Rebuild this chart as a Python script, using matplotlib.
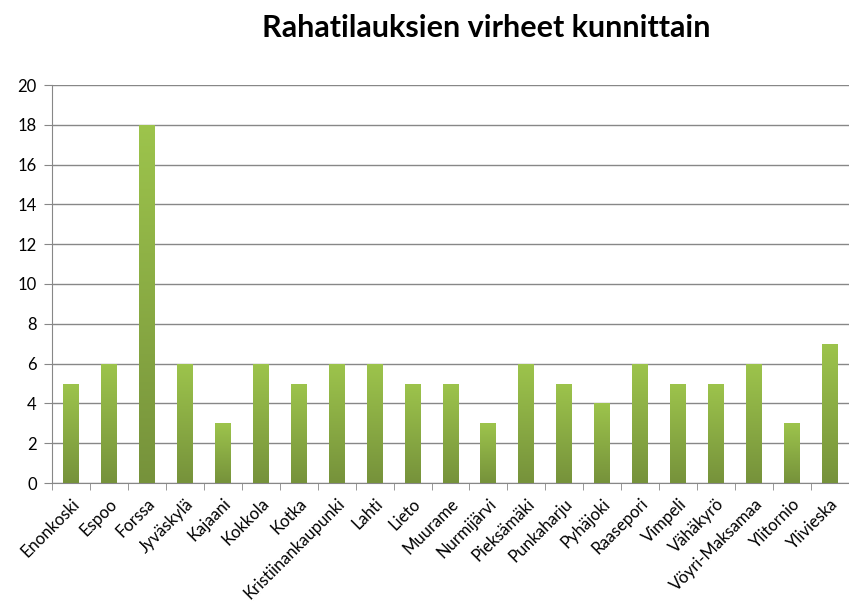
import numpy as np
import matplotlib.pyplot as plt
from matplotlib.colors import LinearSegmentedColormap

# Data
kunnat = ['Enonkoski', 'Espoo', 'Forssa', 'Jyväskylä', 'Kajaani', 'Kokkola',
          'Kotka', 'Kristiinankaupunki', 'Lahti', 'Lieto', 'Muurame',
          'Nurmijärvi', 'Pieksämäki', 'Punkaharju', 'Pyhäjoki', 'Raasepori',
          'Vimpeli', 'Vähäkyrö', 'Vöyri-Maksamaa', 'Ylitornio', 'Ylivieska']
virheet = [5, 6, 18, 6, 3, 6, 5, 6, 6, 5, 5, 3, 6, 5, 4, 6, 5, 5, 6, 3, 7]
y_ticks = list(range(0, 21, 2))

plt.rcParams['font.family'] = ['Lato', 'DejaVu Sans']

fig = plt.figure(figsize=(8.49, 6.06), dpi=100)
ax = fig.add_axes([52 / 849, 1 - 483 / 606, (849 - 52) / 849, (483 - 85) / 606])

x = np.arange(len(kunnat))
bar_w = 0.42
bars = ax.bar(x, virheet, width=bar_w, color='none', edgecolor='none', zorder=3)

# vertical gradient in each bar, light at top, dark at bottom
cmap = LinearSegmentedColormap.from_list('grn', ['#76923B', '#9DC44C'])
grad = np.linspace(0, 1, 256).reshape(-1, 1)
for b in bars:
    x0, w, h = b.get_x(), b.get_width(), b.get_height()
    im = ax.imshow(grad, cmap=cmap, aspect='auto', origin='lower',
                   extent=[x0, x0 + w, 0, h], zorder=3)
    im.set_clip_path(b)

ax.set_xlim(-0.5, len(kunnat) - 0.5)
ax.set_ylim(0, 20)
ax.set_yticks(y_ticks)
ax.yaxis.grid(True, color='#878787', linewidth=1)
ax.set_axisbelow(True)

ax.set_xticks(x)
ax.set_xticklabels(kunnat, rotation=45, ha='right', rotation_mode='anchor',
                   fontsize=12)
ax.set_xticks(np.arange(-0.5, len(kunnat), 1), minor=True)
ax.tick_params(axis='x', which='major', length=0, pad=9)
ax.tick_params(axis='x', which='minor', length=5, color='#878787')
ax.tick_params(axis='y', length=6, color='#878787', labelsize=12, pad=5)

for s in ['top', 'right']:
    ax.spines[s].set_visible(False)
for s in ['left', 'bottom']:
    ax.spines[s].set_color('#878787')

fig.text(486 / 849, 1 - 28 / 606, 'Rahatilauksien virheet kunnittain',
         ha='center', va='center', fontsize=22, fontweight='bold')

fig.savefig('out.png', dpi=100)
